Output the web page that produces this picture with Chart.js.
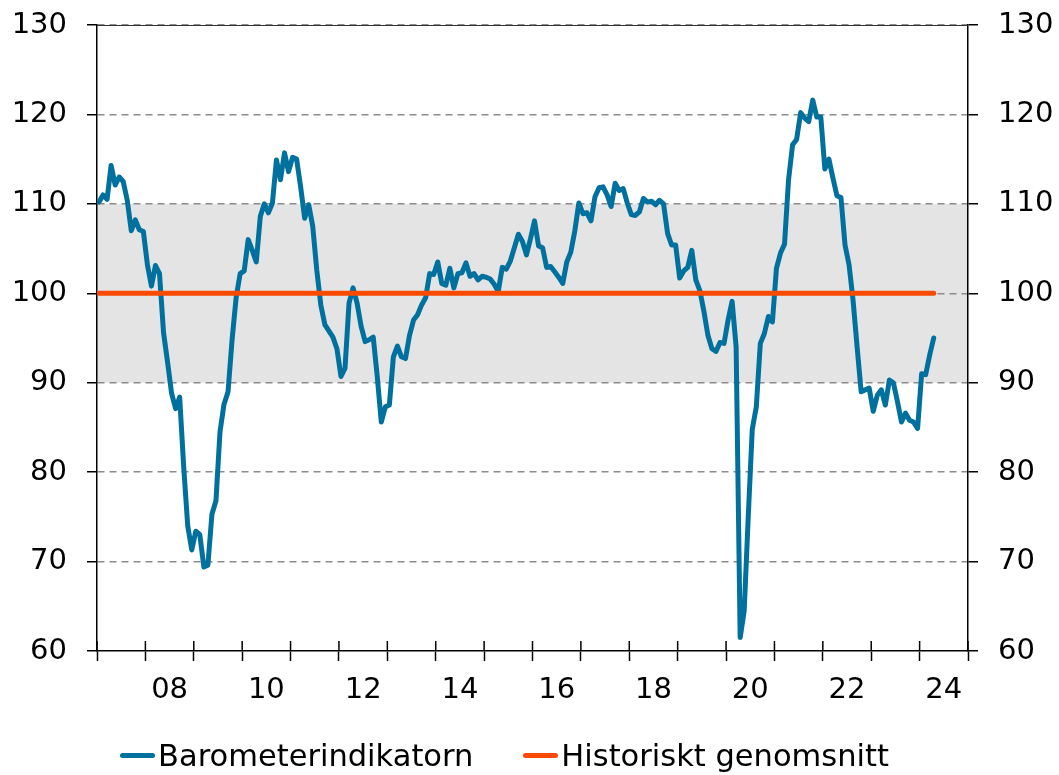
<!DOCTYPE html>
<html lang="sv">
<head>
    <meta charset="UTF-8">
    <title>Barometerindikatorn</title>
    <script src="https://cdn.jsdelivr.net/npm/chart.js"></script>
    <style>
        body { margin: 0; background: #fff; }
        #wrap { width: 1059px; height: 775px; position: relative; }
        #legend {
            position: absolute; left: 0; top: 737px; width: 1009px; height: 36px;
            display: flex; justify-content: center; align-items: center;
            font-family: "DejaVu Sans", Verdana, sans-serif; font-size: 30.5px; color: #000;
        }
        .item { display: flex; align-items: center; margin: 0 25px; white-space: nowrap; }
        .swatch { width: 35px; height: 5px; border-radius: 3px; margin-right: 3px; }
    </style>
</head>
<body>
<div id="wrap">
    <canvas id="barometerChart"></canvas>
    <div id="legend"></div>
</div>
<script>
    // Monthly values, Jan 2007 - Apr 2024 (one row per year)
    const firstYear = 2007;
    const barometerValues = [
        110.2, 111.0, 110.5, 114.3, 112.1, 113.0, 112.5, 110.4, 107.0, 108.2, 107.1, 106.9,
        103.2, 100.8, 103.1, 102.2, 95.6, 92.3, 88.8, 87.1, 88.4, 80.6, 74.0, 71.3,
        73.4, 73.0, 69.4, 69.6, 75.3, 76.8, 84.5, 87.6, 89.0, 94.8, 99.5, 102.2,
        102.5, 106.0, 104.8, 103.5, 108.6, 110.0, 109.0, 110.1, 114.9, 112.7, 115.7, 113.6,
        115.2, 115.0, 111.9, 108.4, 109.9, 107.5, 102.6, 98.7, 96.5, 95.8, 95.1, 93.8,
        90.7, 91.6, 98.9, 100.6, 98.9, 96.3, 94.6, 94.8, 95.1, 90.7, 85.6, 87.3,
        87.5, 92.9, 94.1, 92.9, 92.7, 95.3, 97.0, 97.6, 98.7, 99.5, 102.2, 102.1,
        103.5, 101.1, 100.9, 102.8, 100.6, 102.2, 102.3, 103.4, 101.9, 102.2, 101.5, 101.9,
        101.8, 101.6, 101.0, 100.2, 102.9, 102.7, 103.6, 105.1, 106.6, 105.8, 104.3, 106.1,
        108.1, 105.3, 105.1, 102.9, 103.0, 102.4, 101.8, 101.1, 103.5, 104.6, 107.0, 110.1,
        108.9, 109.0, 108.1, 110.8, 111.8, 111.9, 111.0, 109.7, 112.3, 111.5, 111.7, 110.1,
        108.8, 108.7, 109.1, 110.6, 110.2, 110.3, 109.9, 110.4, 110.0, 106.7, 105.4, 105.4,
        101.7, 102.5, 102.9, 104.8, 101.5, 100.3, 98.0, 95.3, 93.8, 93.5, 94.5, 94.4,
        97.0, 99.1, 94.0, 61.5, 64.5, 75.0, 84.8, 87.3, 94.4, 95.5, 97.4, 96.8,
        102.8, 104.5, 105.5, 112.7, 116.6, 117.2, 120.2, 119.6, 119.2, 121.6, 119.7, 119.7,
        113.9, 115.0, 112.9, 110.9, 110.7, 105.4, 103.2, 99.2, 94.0, 89.0, 89.2, 89.4,
        86.8, 88.6, 89.2, 87.5, 90.3, 90.0, 87.9, 85.6, 86.6, 85.8, 85.6, 84.9,
        91.0, 90.9, 93.1, 95.0
    ];
    const historicalAverage = 100;
    const normalBand = [90, 110];          // shaded "normal" range
    const yearLabels = ['08', '10', '12', '14', '16', '18', '20', '22', '24'];
    const yTicks = [60, 70, 80, 90, 100, 110, 120, 130];
    const lastYear = 2024;

    const seriesNames = ['Barometerindikatorn', 'Historiskt genomsnitt'];
    const blue = '#00709E';
    const red = '#F84B00';

    const totalMonths = (lastYear - firstYear + 1) * 12;

    // each month sits in the middle of its slot on the time axis
    const baroPoints = barometerValues.map((v, i) => ({ x: i + 0.5, y: v }));
    const avgPoints = barometerValues.map((v, i) => ({ x: i + 0.5, y: historicalAverage }));

    // month position of each year label (middle of that year)
    const labelPos = {};
    yearLabels.forEach(l => {
        const yr = 2000 + parseInt(l, 10);
        labelPos[(yr - firstYear) * 12 + 6] = l;
    });

    // light grey band between 90 and 110, drawn under grid and lines
    const bandPlugin = {
        id: 'band',
        beforeDraw(chart) {
            const { ctx, chartArea, scales } = chart;
            const top = scales.y.getPixelForValue(normalBand[1]);
            const bottom = scales.y.getPixelForValue(normalBand[0]);
            ctx.save();
            ctx.fillStyle = '#E4E4E4';
            ctx.fillRect(chartArea.left, top, chartArea.right - chartArea.left, bottom - top);
            ctx.restore();
        }
    };

    // ticks that cross the x axis, and the thin top frame line
    const framePlugin = {
        id: 'frame',
        afterDraw(chart) {
            const { ctx, chartArea, scales } = chart;
            ctx.save();
            ctx.strokeStyle = '#000';
            ctx.lineWidth = 1.5;
            ctx.beginPath();
            for (let m = 0; m <= totalMonths; m += 12) {
                const x = scales.x.getPixelForValue(m);
                ctx.moveTo(x, chartArea.bottom);
                ctx.lineTo(x, chartArea.bottom - 10);
            }
            ctx.stroke();
            ctx.lineWidth = 1;
            ctx.strokeStyle = '#333';
            ctx.beginPath();
            ctx.moveTo(chartArea.left, chartArea.top + 0.5);
            ctx.lineTo(chartArea.right, chartArea.top + 0.5);
            ctx.stroke();
            ctx.restore();
        }
    };

    Chart.defaults.font.family = '"DejaVu Sans", Verdana, sans-serif';
    Chart.defaults.font.size = 29;
    Chart.defaults.color = '#000';

    const yAxis = (position, width) => ({
        position: position,
        min: yTicks[0],
        max: yTicks[yTicks.length - 1],
        afterBuildTicks: (scale) => { scale.ticks = yTicks.map(v => ({ value: v })); },
        afterFit: (scale) => {
            scale.width = width;
            scale.paddingTop = 0;
            scale.paddingBottom = 0;
        },
        ticks: { padding: 20, color: '#000' },
        grid: {
            drawOnChartArea: position === 'left',
            color: (c) => (c.tick && c.tick.value === yTicks[0]) ? 'rgba(0,0,0,0)' : '#8C8C8C',
            lineWidth: 1.5,
            tickLength: 10,
            tickColor: '#000',
            tickWidth: 1.5
        },
        border: { color: '#000', width: 1.5, dash: [7, 5] }
    });

    const ctx = document.getElementById('barometerChart').getContext('2d');
    const chart = new Chart(ctx, {
        type: 'line',
        data: {
            datasets: [
                {
                    label: seriesNames[0],
                    data: baroPoints,
                    borderColor: blue,
                    backgroundColor: blue,
                    borderWidth: 5,
                    pointRadius: 0,
                    borderCapStyle: 'round',
                    borderJoinStyle: 'round',
                    tension: 0,
                    order: 1
                },
                {
                    label: seriesNames[1],
                    data: avgPoints,
                    borderColor: red,
                    backgroundColor: red,
                    borderWidth: 5,
                    pointRadius: 0,
                    borderCapStyle: 'round',
                    borderJoinStyle: 'round',
                    order: 0
                }
            ]
        },
        options: {
            responsive: true,
            maintainAspectRatio: false,
            animation: false,
            layout: { padding: { top: 25, right: 0, bottom: 0, left: 0 } },
            scales: {
                x: {
                    type: 'linear',
                    min: 0,
                    max: totalMonths,
                    afterBuildTicks: (scale) => {
                        const t = [];
                        for (let m = 0; m <= totalMonths; m += 6) {
                            if (m % 12 === 0 || labelPos[m]) t.push({ value: m });
                        }
                        scale.ticks = t;
                    },
                    afterFit: (scale) => {
                        scale.height = 124;
                        scale.paddingLeft = 0;
                        scale.paddingRight = 0;
                    },
                    ticks: {
                        autoSkip: false,
                        maxRotation: 0,
                        padding: 12,
                        color: '#000',
                        callback: (v) => labelPos[v] || ''
                    },
                    grid: {
                        drawOnChartArea: false,
                        tickLength: 10,
                        tickWidth: 1.5,
                        tickColor: (c) => (c.tick && c.tick.value % 12 === 0) ? '#000' : 'rgba(0,0,0,0)'
                    },
                    border: { color: '#000', width: 1.5 }
                },
                y: yAxis('left', 97),
                y2: yAxis('right', 91)
            },
            plugins: {
                legend: { display: false },
                tooltip: { enabled: false }
            }
        },
        plugins: [bandPlugin, framePlugin]
    });

    // legend below the plot, built from the datasets
    const legendEl = document.getElementById('legend');
    chart.data.datasets.forEach(ds => {
        const item = document.createElement('div');
        item.className = 'item';
        const sw = document.createElement('span');
        sw.className = 'swatch';
        sw.style.background = ds.borderColor;
        const txt = document.createElement('span');
        txt.textContent = ds.label;
        item.appendChild(sw);
        item.appendChild(txt);
        legendEl.appendChild(item);
    });
</script>
</body>
</html>
